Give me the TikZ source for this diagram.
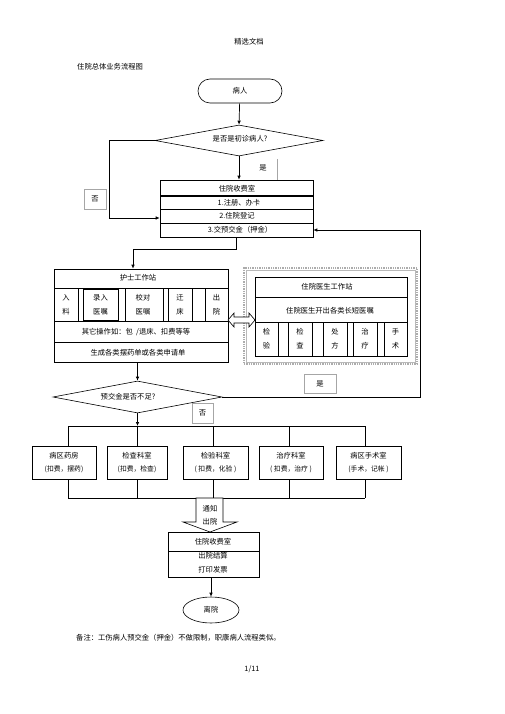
\documentclass[tikz,border=0pt]{standalone}
\usepackage{fontspec}
\setmainfont{Noto Sans CJK SC}
\usetikzlibrary{arrows.meta,shapes.geometric}
\begin{document}
\begin{tikzpicture}[x=1pt,y=-1pt,
  font=\fontsize{7.3}{9}\selectfont,
  box/.style={draw, line width=0.6pt, inner sep=0pt},
  lbl/.style={draw=gray!70, line width=0.4pt, inner sep=0pt},
  txt/.style={inner sep=0pt},
  arr/.style={-{Latex[length=4pt,width=3.5pt]}, line width=0.7pt},
  ln/.style={line width=0.6pt},
  thick line/.style={line width=1.1pt}]
\useasboundingbox (0,0) rectangle (505,714);

% header
\node[txt] (hdr) at (249,42) {精选文档};
\node[txt, anchor=west] (title) at (77,67) {住院总体业务流程图};

% patient
\node[box, minimum width=84pt, minimum height=24pt, rounded corners=12pt] (patient) at (240,91) {病人};

% diamond 1
\node[box, diamond, minimum width=168pt, minimum height=31pt] (d1) at (239,140.5) {};
\node[txt] (d1t) at (240,139) {是否是初诊病人?};

% cash office
\node[box, minimum width=153pt, minimum height=57pt] (cash) at (236.5,208.5) {};
\draw[thick line] (160,196) -- (313,196);
\draw[ln] (160,209) -- (313,209);
\draw[ln] (160,223.5) -- (313,223.5);
\node[txt] (c0) at (237,189) {住院收费室};
\node[txt] (c1) at (239,202.5) {1.注册、办卡};
\node[txt] (c2) at (237,216) {2.住院登记};
\node[txt] (c3) at (240,230) {3.交预交金（押金）};

% labels yes / no
\node[txt] (yes1) at (263,168) {是};
\draw[gray!70, line width=0.4pt] (277,159) -- (277,180);
\node[lbl, minimum width=22pt, minimum height=20pt] (no1) at (95,199) {否};

\coordinate (lcorner) at (109,218);
\draw[arr] (patient) -- (d1.north);
\draw[arr] (d1.south) -- (cash.north -| d1.south);
\draw[arr] (d1.west) -| (lcorner) -- (cash.west |- lcorner);

% nurse station
\node[box, minimum width=174pt, minimum height=93pt] (nurse) at (141,315.5) {};
\draw[ln] (54,288) -- (228,288);
\draw[ln] (54,321) -- (228,321);
\draw[thick line] (54,342.5) -- (228,342.5);
\foreach \xx in {78,83,118,125,163,168,192,205} \draw[ln] (\xx,288) -- (\xx,321);
\draw[line width=0.9pt] (83,289) rectangle (118,320);
\node[txt] (nt) at (138,278) {护士工作站};
\node[txt, align=center] (n1) at (66,305) {入\\[5pt]料};
\node[txt, align=center] (n2) at (100.5,305) {录入\\[5pt]医嘱};
\node[txt, align=center] (n3) at (143,305) {校对\\[5pt]医嘱};
\node[txt, align=center] (n4) at (180,305) {迁\\[5pt]床};
\node[txt, align=center] (n5) at (216.5,305) {出\\[5pt]院};
\node[txt] (n6) at (136,332) {其它操作如：包\ \ /退床、扣费等等};
\node[txt] (n7) at (138,352.5) {生成各类摆药单或各类申请单};

% doctor station
\node[draw=gray!65, line width=1.3pt, densely dotted, minimum width=173pt, minimum height=96pt, inner sep=0pt] (docout) at (330.5,316) {};
\draw[gray!55, line width=0.4pt] (246,270) rectangle (415,362);
\node[box, minimum width=152pt, minimum height=79pt] (doc) at (331,316.5) {};
\draw[ln] (255,297) -- (407,297);
\draw[ln] (255,322) -- (407,322);
\foreach \xx in {278,288,312,323,347,353,377,384} \draw[ln] (\xx,322) -- (\xx,356);
\draw[line width=1pt] (288,356) -- (312,356);
\node[txt] (dt) at (327,287) {住院医生工作站};
\node[txt] (dt2) at (330,311) {住院医生开出各类长短医嘱};
\node[txt, align=center] (e1) at (266.5,339) {检\\[5pt]验};
\node[txt, align=center] (e2) at (300,339) {检\\[5pt]查};
\node[txt, align=center] (e3) at (335,339) {处\\[5pt]方};
\node[txt, align=center] (e4) at (365,339) {治\\[5pt]疗};
\node[txt, align=center] (e5) at (395.5,339) {手\\[5pt]术};

% double arrow
\draw[ln, fill=white] (228,320) -- (234,313) -- (234,317) -- (249,317) -- (249,313) -- (255,320)
  -- (249,327) -- (249,323) -- (234,323) -- (234,327) -- cycle;

\draw[arr] (cash.south) -- ++(0,12) -| ([xshift=-8pt]nurse.north);

% diamond 2
\node[box, diamond, minimum width=169pt, minimum height=32pt] (d2) at (137.5,397) {};
\node[txt] (d2t) at (128,397) {预交金是否不足?};
\draw[arr] (d2.north |- nurse.south) -- (d2.north);

% yes 2 / no 2
\node[lbl, minimum width=32pt, minimum height=19pt] (yes2) at (320,383.5) {是};
\node[lbl, minimum width=21pt, minimum height=20pt] (no2) at (202.5,413) {否};

\coordinate (rcorner) at (420,397);
\draw[arr] (d2.east) -- (rcorner) |- (cash.east |- c3);

% departments
\coordinate (bus) at (0,426);
\coordinate (bus2) at (0,498);
\node[box, minimum width=64pt, minimum height=33pt] (b1) at (64,462.5) {};
\node[box, minimum width=60pt, minimum height=33pt] (b2) at (137,462.5) {};
\node[box, minimum width=65pt, minimum height=33pt] (b3) at (215.5,462.5) {};
\node[box, minimum width=64pt, minimum height=33pt] (b4) at (291,462.5) {};
\node[box, minimum width=65pt, minimum height=33pt] (b5) at (368.5,462.5) {};
\node[txt, align=center] (b1t) at (64,462.5) {病区药房\\[4pt]{\fontsize{6.8}{8}\selectfont (扣费，摆药)}};
\node[txt, align=center] (b2t) at (137,462.5) {检查科室\\[4pt]{\fontsize{6.8}{8}\selectfont (扣费，检查)}};
\node[txt, align=center] (b3t) at (215.5,462.5) {检验科室\\[4pt]{\fontsize{6.8}{8}\selectfont ( 扣费，化验 )}};
\node[txt, align=center] (b4t) at (291,462.5) {治疗科室\\[4pt]{\fontsize{6.8}{8}\selectfont ( 扣费，治疗 )}};
\node[txt, align=center] (b5t) at (368.5,462.5) {病区手术室\\[4pt]{\fontsize{6.8}{8}\selectfont (手术，记帐 )}};

\coordinate (v1) at (68,426);
\coordinate (v2) at (137,426);
\coordinate (v3) at (213,426);
\coordinate (v4) at (289,426);
\coordinate (v5) at (365,426);
\draw[arr] (d2.south) -- (d2.south |- bus);
\draw[ln] (v1) -- (v5);
\draw[ln] (v1) -- (v1 |- b1.north);
\draw[ln] (v2) -- (v2 |- b2.north);
\draw[ln] (v3) -- (v3 |- b3.north);
\draw[ln] (v4) -- (v4 |- b4.north);
\draw[ln] (v5) -- (v5 |- b5.north);
\draw[ln] (v1 |- b1.south) -- (v1 |- bus2);
\draw[ln] (v2 |- b2.south) -- (v2 |- bus2);
\draw[ln] (v3 |- b3.south) -- (v3 |- bus2);
\draw[ln] (v4 |- b4.south) -- (v4 |- bus2);
\draw[ln] (v5 |- b5.south) -- (v5 |- bus2);
\draw[ln] (v1 |- bus2) -- (v5 |- bus2);

% block arrow
\draw[ln, fill=white] (196,498) -- (223,498) -- (223,522) -- (237,522) -- (210,532) -- (183,522) -- (196,522) -- cycle;
\node[txt, align=center] (notify) at (210,515) {通知\\[4pt]出院};

% exit cash
\node[box, minimum width=91pt, minimum height=45pt] (cash2) at (213.5,554.5) {};
\draw[ln] (168,551) -- (259,551);
\node[txt] (x0) at (213,542) {住院收费室};
\node[txt] (x1) at (213,555.5) {出院结算};
\node[txt] (x2) at (213,570) {打印发票};

\node[box, ellipse, minimum width=56pt, minimum height=26pt] (leave) at (211,610) {离院};
\draw[arr] (cash2.south -| leave.north) -- (leave.north);

% note
\node[txt, anchor=west] (note) at (76,638) {备注：工伤病人预交金（押金）不做限制，职康病人流程类似。};
\node[txt] (page) at (252,669) {1/11};
\end{tikzpicture}
\end{document}
